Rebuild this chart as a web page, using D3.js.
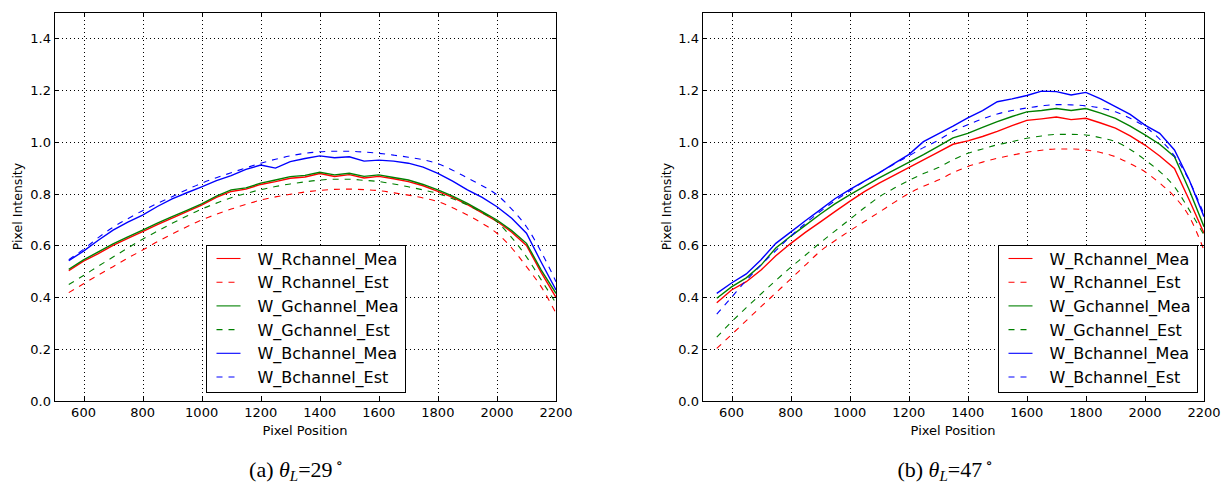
<!DOCTYPE html>
<html>
<head>
<meta charset="utf-8">
<script src="https://cdn.jsdelivr.net/npm/d3@7"></script>
<style>
  body { margin: 0; background: #fff; }
  text { font-family: "DejaVu Sans", sans-serif; }
</style>
</head>
<body>
<div id="chart"></div>
<script>
// sample positions along the sensor row
var xPositions = [550,600,650,700,750,800,850,900,950,1000,
                  1050,1100,1150,1200,1250,1300,1350,1400,1450,1500,
                  1550,1600,1650,1700,1750,1800,1850,1900,1950,2000,
                  2050,2100,2150,2200];

// (a) theta_L = 29
var leftRMea = [0.503,0.539,0.568,0.600,0.627,0.653,0.680,0.705,0.730,0.755,
                0.785,0.808,0.817,0.835,0.846,0.859,0.864,0.877,0.866,0.873,
                0.860,0.866,0.857,0.846,0.830,0.808,0.785,0.757,0.725,0.693,
                0.651,0.600,0.495,0.400];
var leftREst = [0.418,0.452,0.486,0.518,0.551,0.582,0.614,0.644,0.672,0.698,
                0.720,0.740,0.758,0.775,0.787,0.797,0.806,0.812,0.816,0.817,
                0.815,0.811,0.803,0.794,0.783,0.769,0.745,0.717,0.685,0.647,
                0.590,0.518,0.440,0.338];
var leftGMea = [0.508,0.544,0.575,0.606,0.633,0.659,0.686,0.711,0.735,0.760,
                0.790,0.814,0.822,0.840,0.852,0.865,0.870,0.882,0.872,0.878,
                0.866,0.872,0.862,0.852,0.835,0.814,0.790,0.762,0.730,0.698,
                0.657,0.608,0.505,0.415];
var leftGEst = [0.449,0.484,0.520,0.555,0.590,0.624,0.655,0.685,0.713,0.740,
                0.763,0.784,0.800,0.815,0.827,0.837,0.845,0.852,0.855,0.855,
                0.851,0.846,0.837,0.826,0.814,0.800,0.780,0.756,0.726,0.691,
                0.630,0.556,0.467,0.377];
var leftBMea = [0.541,0.578,0.620,0.659,0.690,0.717,0.750,0.779,0.803,0.826,
                0.850,0.869,0.893,0.910,0.898,0.923,0.935,0.945,0.938,0.942,
                0.925,0.929,0.925,0.917,0.902,0.878,0.848,0.814,0.785,0.749,
                0.705,0.647,0.535,0.428];
var leftBEst = [0.545,0.585,0.630,0.670,0.703,0.734,0.762,0.788,0.815,0.840,
                0.861,0.880,0.899,0.917,0.932,0.945,0.955,0.961,0.963,0.963,
                0.960,0.955,0.948,0.940,0.930,0.915,0.890,0.860,0.830,0.795,
                0.740,0.672,0.575,0.460];

// (b) theta_L = 47
var rightRMea = [0.379,0.428,0.460,0.505,0.560,0.607,0.650,0.690,0.730,0.770,
                 0.807,0.840,0.870,0.900,0.930,0.960,0.990,1.003,1.020,1.040,
                 1.062,1.082,1.088,1.095,1.085,1.090,1.072,1.052,1.022,0.987,
                 0.945,0.897,0.775,0.647];
var rightREst = [0.203,0.256,0.310,0.364,0.417,0.470,0.524,0.577,0.618,0.656,
                 0.692,0.728,0.765,0.800,0.828,0.852,0.880,0.904,0.921,0.936,
                 0.948,0.959,0.967,0.972,0.972,0.968,0.958,0.942,0.915,0.884,
                 0.840,0.788,0.711,0.582];
var rightGMea = [0.396,0.440,0.475,0.524,0.590,0.635,0.677,0.720,0.760,0.795,
                 0.828,0.860,0.890,0.920,0.950,0.982,1.015,1.032,1.055,1.077,
                 1.097,1.115,1.120,1.128,1.120,1.128,1.110,1.090,1.060,1.026,
                 0.990,0.942,0.814,0.672];
var rightGEst = [0.246,0.305,0.360,0.413,0.465,0.515,0.562,0.610,0.655,0.700,
                 0.745,0.787,0.820,0.850,0.877,0.900,0.930,0.955,0.972,0.988,
                 1.000,1.013,1.022,1.028,1.028,1.026,1.015,1.000,0.970,0.930,
                 0.885,0.826,0.737,0.640];
var rightBMea = [0.415,0.455,0.490,0.545,0.608,0.651,0.695,0.737,0.780,0.815,
                 0.848,0.880,0.915,0.950,1.000,1.030,1.060,1.092,1.120,1.154,
                 1.165,1.178,1.195,1.193,1.180,1.190,1.165,1.135,1.105,1.064,
                 1.032,0.968,0.852,0.711];
var rightBEst = [0.335,0.400,0.465,0.525,0.580,0.635,0.685,0.730,0.772,0.810,
                 0.847,0.880,0.913,0.945,0.977,1.005,1.040,1.065,1.088,1.107,
                 1.120,1.130,1.138,1.143,1.142,1.138,1.130,1.115,1.090,1.058,
                 1.010,0.945,0.850,0.720];

var seriesNames = ["W_Rchannel_Mea","W_Rchannel_Est","W_Gchannel_Mea",
                   "W_Gchannel_Est","W_Bchannel_Mea","W_Bchannel_Est"];
var xTicks = [600,800,1000,1200,1400,1600,1800,2000,2200];
var yTicks = [0.0,0.2,0.4,0.6,0.8,1.0,1.2,1.4];
var xDomain = [500,2200];
var yDomain = [0,1.5];
var captionAngles = ["29","47"];
var captionLetters = ["(a)","(b)"];

var width = 1227, height = 492;
var styles = [
    {color: "#ff0000", dash: null},
    {color: "#ff0000", dash: "6,6"},
    {color: "#008000", dash: null},
    {color: "#008000", dash: "6,6"},
    {color: "#0000ff", dash: null},
    {color: "#0000ff", dash: "6,6"}
];

var panels = [
    {x0: 54, x1: 556, y0: 12, y1: 401, legendX: 206, ylabX: 17,
     series: [leftRMea,leftREst,leftGMea,leftGEst,leftBMea,leftBEst], capX: 296},
    {x0: 702, x1: 1204, y0: 12, y1: 401, legendX: 998, ylabX: 666,
     series: [rightRMea,rightREst,rightGMea,rightGEst,rightBMea,rightBEst], capX: 945}
];

var svg = d3.select("#chart").append("svg")
    .attr("width", width)
    .attr("height", height);

panels.forEach(function (p, pi) {
    var x = d3.scaleLinear().domain(xDomain).range([p.x0, p.x1]);
    var y = d3.scaleLinear().domain(yDomain).range([p.y1, p.y0]);
    var g = svg.append("g");

    g.append("clipPath").attr("id", "clip" + pi)
        .append("rect")
        .attr("x", p.x0).attr("y", p.y0)
        .attr("width", p.x1 - p.x0).attr("height", p.y1 - p.y0);

    // dotted grid
    g.selectAll(".gx").data(xTicks).enter().append("line")
        .attr("x1", function (d) { return Math.round(x(d)) + 0.5; })
        .attr("x2", function (d) { return Math.round(x(d)) + 0.5; })
        .attr("y1", p.y0).attr("y2", p.y1)
        .attr("stroke", "#000").attr("stroke-width", 1)
        .attr("stroke-dasharray", "1,3");
    g.selectAll(".gy").data(yTicks).enter().append("line")
        .attr("y1", function (d) { return Math.round(y(d)) + 0.5; })
        .attr("y2", function (d) { return Math.round(y(d)) + 0.5; })
        .attr("x1", p.x0).attr("x2", p.x1)
        .attr("stroke", "#000").attr("stroke-width", 1)
        .attr("stroke-dasharray", "1,3");

    // curves
    var lines = g.append("g").attr("clip-path", "url(#clip" + pi + ")");
    p.series.forEach(function (vals, si) {
        var pts = xPositions.map(function (xv, k) { return [xv, vals[k]]; });
        var line = d3.line()
            .x(function (d) { return x(d[0]); })
            .y(function (d) { return y(d[1]); })
            .curve(styles[si].dash ? d3.curveMonotoneX : d3.curveLinear);
        lines.append("path")
            .datum(pts)
            .attr("d", line)
            .attr("fill", "none")
            .attr("stroke", styles[si].color)
            .attr("stroke-width", styles[si].dash ? 1.1 : 1.4)
            .attr("stroke-dasharray", styles[si].dash);
    });

    // frame
    g.append("rect")
        .attr("x", p.x0 + 0.5).attr("y", p.y0 + 0.5)
        .attr("width", p.x1 - p.x0).attr("height", p.y1 - p.y0)
        .attr("fill", "none").attr("stroke", "#000").attr("stroke-width", 1);

    // inward ticks on all sides
    xTicks.forEach(function (t) {
        var xx = Math.round(x(t)) + 0.5;
        g.append("line").attr("x1", xx).attr("x2", xx)
            .attr("y1", p.y1).attr("y2", p.y1 - 4).attr("stroke", "#000");
        g.append("line").attr("x1", xx).attr("x2", xx)
            .attr("y1", p.y0).attr("y2", p.y0 + 4).attr("stroke", "#000");
    });
    yTicks.forEach(function (t) {
        var yy = Math.round(y(t)) + 0.5;
        g.append("line").attr("y1", yy).attr("y2", yy)
            .attr("x1", p.x0).attr("x2", p.x0 + 4).attr("stroke", "#000");
        g.append("line").attr("y1", yy).attr("y2", yy)
            .attr("x1", p.x1).attr("x2", p.x1 - 4).attr("stroke", "#000");
    });

    // tick labels
    g.selectAll(".xl").data(xTicks).enter().append("text")
        .attr("x", function (d) { return x(d); })
        .attr("y", p.y1 + 15.5)
        .attr("text-anchor", "middle")
        .attr("font-size", 13)
        .text(function (d) { return d; });
    g.selectAll(".yl").data(yTicks).enter().append("text")
        .attr("x", p.x0 - 3)
        .attr("y", function (d) { return y(d) + 5; })
        .attr("text-anchor", "end")
        .attr("font-size", 13)
        .text(function (d) { return d.toFixed(1); });

    // axis titles
    g.append("text")
        .attr("x", (p.x0 + p.x1) / 2).attr("y", 435)
        .attr("text-anchor", "middle").attr("font-size", 13)
        .text("Pixel Position");
    g.append("text")
        .attr("transform", "translate(" + (p.ylabX + 5) + "," + ((p.y0 + p.y1) / 2) + ") rotate(-90)")
        .attr("text-anchor", "middle").attr("font-size", 12.5)
        .text("Pixel Intensity");

    // legend
    var lg = g.append("g").attr("transform", "translate(" + p.legendX + ",245)");
    lg.append("rect")
        .attr("x", 0.5).attr("y", 0.5).attr("width", 199).attr("height", 147)
        .attr("fill", "#fff").attr("stroke", "#000").attr("stroke-width", 1);
    seriesNames.forEach(function (name, si) {
        var cy = 13.5 + si * 23.7;
        lg.append("line")
            .attr("x1", 10.5).attr("x2", 34.5)
            .attr("y1", cy).attr("y2", cy)
            .attr("stroke", styles[si].color).attr("stroke-width", 1.1)
            .attr("stroke-dasharray", styles[si].dash);
        lg.append("text")
            .attr("x", 51.5).attr("y", cy + 6)
            .attr("font-size", 16)
            .text(name);
    });

    // sub-caption
    var cap = svg.append("text")
        .attr("x", p.capX).attr("y", 477)
        .attr("text-anchor", "middle")
        .style("font-family", "'Liberation Serif', 'DejaVu Serif', serif")
        .attr("font-size", 22);
    cap.append("tspan").text(captionLetters[pi] + " ");
    cap.append("tspan").attr("font-style", "italic").text("θ");
    cap.append("tspan").attr("font-style", "italic").attr("font-size", 15)
        .attr("dy", 4).text("L");
    cap.append("tspan").attr("dy", -4).text("=" + captionAngles[pi]);
    cap.append("tspan").attr("font-size", 15).attr("dx", 3).attr("dy", -9).text("∘");
});
</script>
</body>
</html>
